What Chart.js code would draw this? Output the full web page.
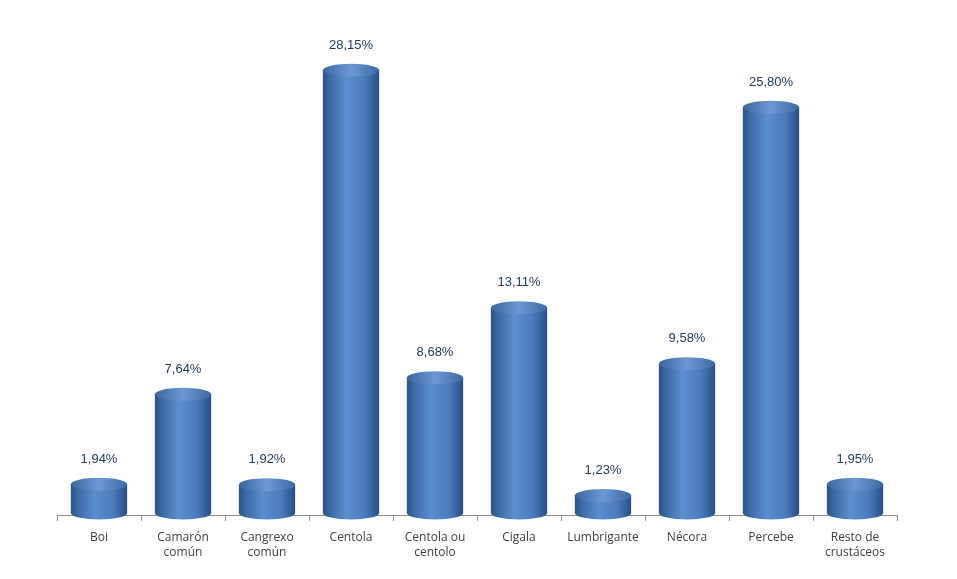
<!DOCTYPE html>
<html lang="es">
<head>
<meta charset="UTF-8">
<title>Crustáceos</title>
<script src="https://cdn.jsdelivr.net/npm/chart.js@4.4.1/dist/chart.umd.min.js"></script>
<style>
  html, body { margin: 0; padding: 0; background: #fff; }
  #wrap { width: 957px; height: 579px; }
</style>
</head>
<body>
<div id="wrap"><canvas id="myChart" width="957" height="579"></canvas></div>
<script>
var categories = [
  'Boi', ['Camarón', 'común'], ['Cangrexo', 'común'], 'Centola', ['Centola ou', 'centolo'],
  'Cigala', 'Lumbrigante', 'Nécora', 'Percebe', ['Resto de', 'crustáceos']
];
var shares = [1.94, 7.64, 1.92, 28.15, 8.68, 13.11, 1.23, 9.58, 25.80, 1.95];

// draws each bar as a cylinder, plus the value label above it
var cylinders = {
  id: 'cylinders',
  afterDatasetsDraw: function(chart) {
    var ctx = chart.ctx;
    var meta = chart.getDatasetMeta(0);
    meta.data.forEach(function(bar, i) {
      var w = bar.width, x0 = bar.x - w / 2, x1 = bar.x + w / 2;
      var top = bar.y, base = bar.base, ry = 6.5;

      var body = ctx.createLinearGradient(x0, 0, x1, 0);
      body.addColorStop(0, '#2a5287');
      body.addColorStop(0.15, '#3e6daa');
      body.addColorStop(0.42, '#5b8ecd');
      body.addColorStop(0.75, '#4a7bbb');
      body.addColorStop(1, '#284f83');

      ctx.save();
      ctx.fillStyle = body;
      ctx.beginPath();
      ctx.moveTo(x0, top);
      ctx.lineTo(x0, base - 2);
      ctx.ellipse(bar.x, base - 2, w / 2, ry, 0, Math.PI, 0, true);
      ctx.lineTo(x1, top);
      ctx.closePath();
      ctx.fill();

      var cap = ctx.createLinearGradient(x0, 0, x1, 0);
      cap.addColorStop(0, '#3b669e');
      cap.addColorStop(0.5, '#6b99d5');
      cap.addColorStop(1, '#3e69a2');
      ctx.fillStyle = cap;
      ctx.beginPath();
      ctx.ellipse(bar.x, top, w / 2, ry, 0, 0, Math.PI * 2);
      ctx.fill();

      ctx.fillStyle = '#1f3b62';
      ctx.font = '13px "Liberation Sans", Arial, sans-serif';
      ctx.textAlign = 'center';
      ctx.textBaseline = 'middle';
      ctx.fillText(shares[i].toFixed(2).replace('.', ',') + '%', bar.x, top - 25);
      ctx.restore();
    });
  }
};

new Chart(document.getElementById('myChart'), {
  type: 'bar',
  data: {
    labels: categories,
    datasets: [{
      data: shares,
      backgroundColor: 'rgba(0,0,0,0)',
      borderWidth: 0,
      barPercentage: 0.67,
      categoryPercentage: 1
    }]
  },
  options: {
    responsive: false,
    animation: false,
    layout: { padding: { left: 57, right: 60, top: 41, bottom: 10 } },
    plugins: { legend: { display: false }, tooltip: { enabled: false } },
    scales: {
      y: { display: false, min: 0, max: 30 },
      x: {
        offset: true,
        border: { display: true, color: '#8c8c8c', width: 1 },
        grid: { display: true, offset: true, drawOnChartArea: false, tickLength: 6, color: '#8c8c8c' },
        ticks: {
          color: '#404040',
          padding: 9,
          maxRotation: 0,
          autoSkip: false,
          font: { family: '"Open Sans", sans-serif', size: 12, lineHeight: 1.25 }
        }
      }
    }
  },
  plugins: [cylinders]
});
</script>
</body>
</html>
